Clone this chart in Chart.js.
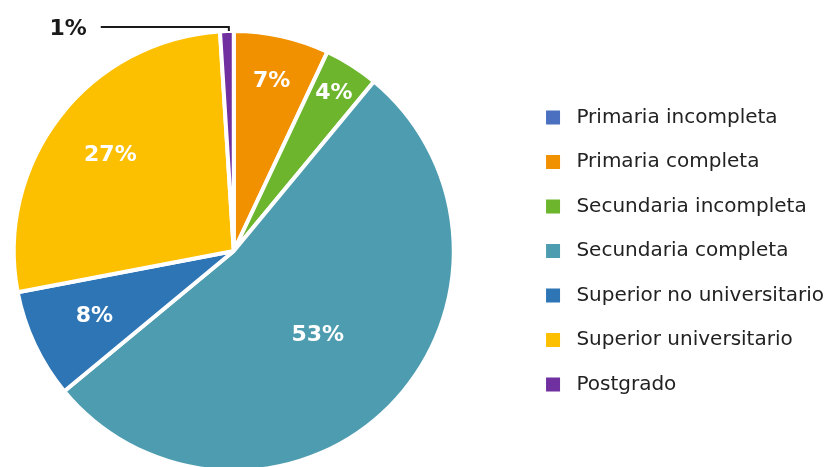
<!DOCTYPE html>
<html>
<head>
<meta charset="utf-8">
<script src="https://cdn.jsdelivr.net/npm/chart.js"></script>
<style>
    html, body { margin: 0; padding: 0; background: #fff; overflow: hidden; }
    #wrap { position: relative; width: 890px; height: 480px; margin-left: -54px; }
</style>
</head>
<body>
<div id="wrap"><canvas id="pieChart"></canvas></div>
<script>
// Nivel educativo (%)
const categories = [
    'Primaria incompleta',
    'Primaria completa',
    'Secundaria incompleta',
    'Secundaria completa',
    'Superior no universitario',
    'Superior universitario',
    'Postgrado'
];
const shares = [0, 7, 4, 53, 8, 27, 1];
const sliceColors = ['#4A70BF', '#F29100', '#6CB52D', '#4E9CB0', '#2E75B6', '#FCC000', '#7030A0'];

// distance of each label from the centre, as a fraction of the radius
const labelRadius = [0, 0.79, 0.85, 0.54, 0.70, 0.71, 0];

// white percentage labels inside the slices, leader line for the tiny one
const pctLabels = {
    id: 'pctLabels',
    afterDatasetsDraw(chart) {
        const ctx = chart.ctx;
        const arcs = chart.getDatasetMeta(0).data;
        ctx.save();
        ctx.font = 'bold 22px "DejaVu Sans"';
        ctx.textBaseline = 'middle';
        arcs.forEach((arc, i) => {
            const v = shares[i];
            if (!v) return;
            const { x, y, startAngle, endAngle, outerRadius } = arc.getProps(['x', 'y', 'startAngle', 'endAngle', 'outerRadius'], true);
            const mid = (startAngle + endAngle) / 2;
            const txt = v + '%';
            if (v < 2) {
                // outside label with an elbow leader
                const ex = x + Math.cos(mid) * outerRadius;
                const ey = y + Math.sin(mid) * outerRadius;
                const ly = y - outerRadius - 4;
                ctx.strokeStyle = '#1a1a1a';
                ctx.lineWidth = 2;
                ctx.beginPath();
                ctx.moveTo(ex + 2, ey);
                ctx.lineTo(ex + 2, ly);
                ctx.lineTo(x - 133, ly);
                ctx.stroke();
                ctx.fillStyle = '#1a1a1a';
                ctx.textAlign = 'right';
                ctx.fillText(txt, x - 147, ly + 2);
                return;
            }
            const r = outerRadius * labelRadius[i];
            ctx.fillStyle = '#ffffff';
            ctx.textAlign = 'center';
            ctx.fillText(txt, x + Math.cos(mid) * r, y + Math.sin(mid) * r);
        });
        ctx.restore();
    }
};

new Chart(document.getElementById('pieChart'), {
    type: 'pie',
    data: {
        labels: categories,
        datasets: [{
            data: shares,
            backgroundColor: sliceColors,
            borderColor: '#ffffff',
            borderWidth: 4
        }]
    },
    options: {
        responsive: true,
        maintainAspectRatio: false,
        animation: false,
        layout: { padding: { top: 29, bottom: 7, left: 0, right: 2 } },
        plugins: {
            tooltip: { enabled: false },
            legend: {
                position: 'right',
                labels: {
                    boxWidth: 14,
                    boxHeight: 14,
                    padding: 24.5,
                    color: '#222222',
                    font: { family: '"DejaVu Sans"', size: 20 },
                    generateLabels(chart) {
                        const items = Chart.overrides.pie.plugins.legend.labels.generateLabels(chart);
                        return items.map(it => Object.assign(it, { text: ' ' + it.text, lineWidth: 0 }));
                    }
                }
            }
        }
    },
    plugins: [pctLabels]
});
</script>
</body>
</html>
